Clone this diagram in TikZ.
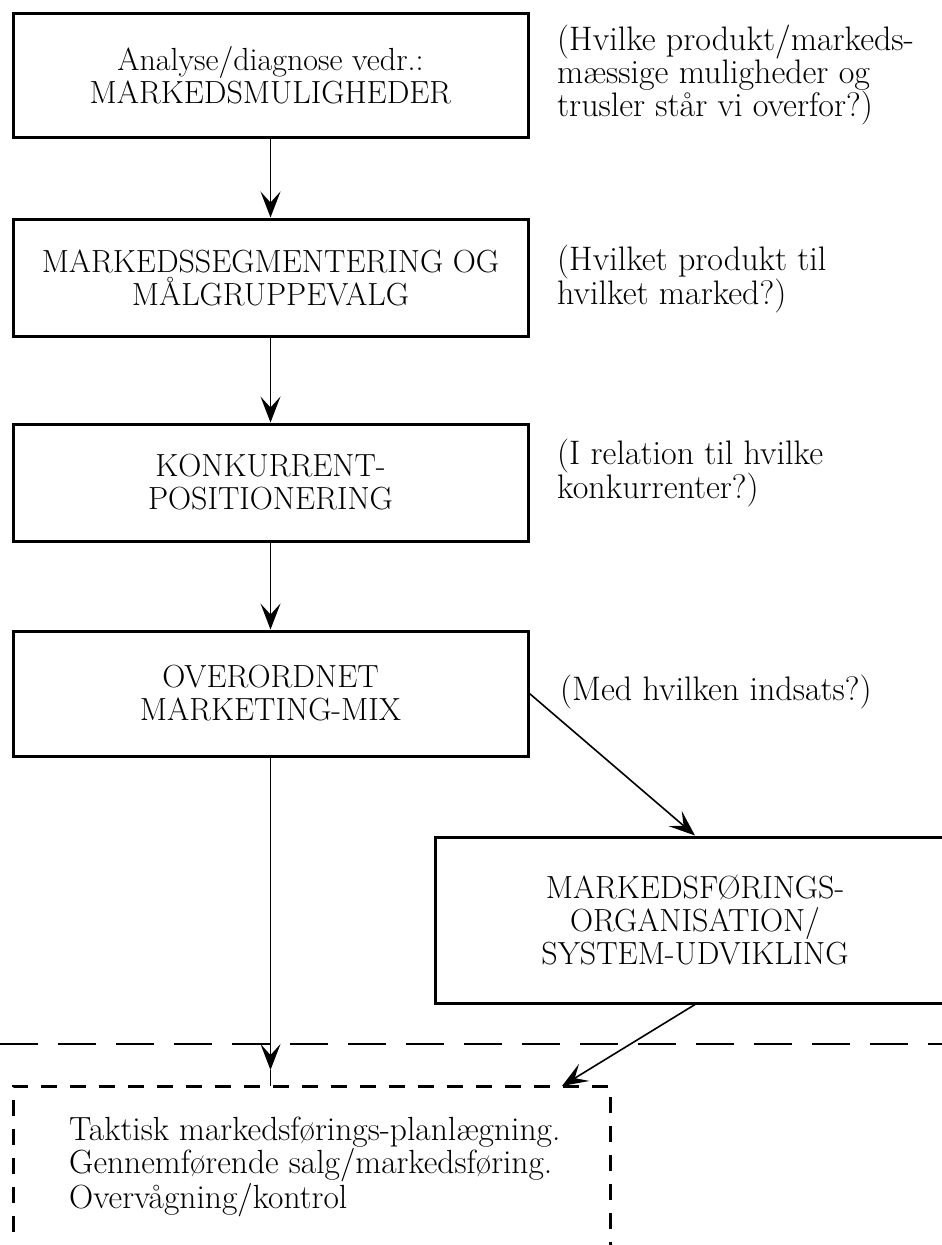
\documentclass[tikz,border=0pt]{standalone}
\usepackage{fontspec}
\usetikzlibrary{arrows.meta,calc}
\tikzstyle{stepbox} = [draw=black, line width=3pt, rectangle, minimum width=515pt, align=center, inner sep=0pt, font=\fontsize{32}{33}\selectfont]
\tikzstyle{question} = [anchor=west, align=left, inner sep=0pt, font=\fontsize{34}{32}\selectfont]
\tikzstyle{flow} = [line width=1.6pt, -{Stealth[length=26pt,width=20pt,inset=11pt]}]
\tikzstyle{tactic} = [line width=3pt, dash pattern=on 16pt off 13pt]
\tikzstyle{border} = [line width=1.8pt, dash pattern=on 38pt off 20pt]
\newcommand{\caps}[1]{{\addfontfeature{LetterSpace=4}#1}}

\begin{document}
\begin{tikzpicture}[x=1pt, y=-1pt]
\useasboundingbox (0,0) rectangle (942,1245);

% the strategic steps
\node [stepbox, minimum height=124pt] (analyse) at (270.5,75) {Analyse/diagnose vedr.:\\\caps{MARKEDSMULIGHEDER}};
\node [stepbox, minimum height=117pt] (segment) at (270.5,277.5) {\caps{MARKEDSSEGMENTERING OG}\\\caps{MÅLGRUPPEVALG}};
\node [stepbox, minimum height=117pt] (position) at (270.5,482.5) {\caps{KONKURRENT-}\\\caps{POSITIONERING}};
\node [stepbox, minimum height=125pt] (mix) at (270.5,693.5) {\caps{OVERORDNET}\\\caps{MARKETING-MIX}};
\node [stepbox, minimum width=520pt, minimum height=166pt] (organisation) at (695,920) {\caps{MARKEDSFØRINGS-}\\\caps{ORGANISATION/}\\\caps{SYSTEM-UDVIKLING}};

% the questions
\node [question] (q1) at (557,75) {(Hvilke produkt/markeds-\\mæssige muligheder og\\trusler står vi overfor?)};
\node [question] (q2) at (557,279) {(Hvilket produkt til\\hvilket marked?)};
\node [question] (q3) at (557,473) {(I relation til hvilke\\konkurrenter?)};
\node [question] (q4) at (560,692) {(Med hvilken indsats?)};

% tactical level
\draw [border] (0,1044) -- (942,1044);
\draw [tactic] (13,1290) -- (13,1086) -- (610,1086) -- (610,1290);
\node [anchor=north west, align=left, inner sep=0pt, font=\fontsize{33.5}{33}\selectfont] (tactics) at (69,1117)
    {Taktisk markedsførings-planlægning.\\Gennemførende salg/markedsføring.\\Overvågning/kontrol};
\coordinate (tacticsin) at (562,1086);
\coordinate (tacticstop) at (270.5,1086);
\coordinate (midtip) at (270.5,1070);

% connectors
\draw [flow] (analyse.south) -- (segment.north);
\draw [flow] (segment.south) -- (position.north);
\draw [flow] (position.south) -- (mix.north);
\draw [flow] (mix.south) -- (midtip);
\draw [line width=1.6pt] (midtip) -- (tacticstop);
\draw [flow] (mix.east) -- (organisation.north);
\draw [flow] (organisation.south) -- (tacticsin);
\end{tikzpicture}
\end{document}
